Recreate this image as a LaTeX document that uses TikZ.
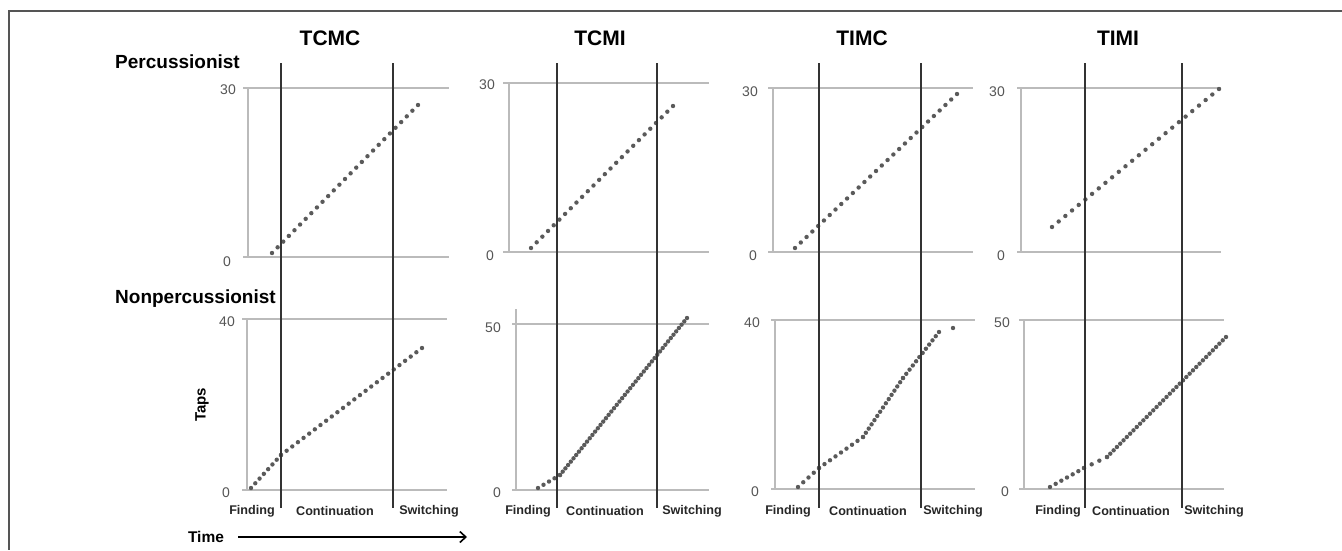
\documentclass[tikz,border=0pt]{standalone}
\usepackage{fontspec}
\setmainfont{Liberation Sans}
\usetikzlibrary{arrows.meta}
\definecolor{gridc}{HTML}{BBBBBB}
\definecolor{phasec}{HTML}{333333}
\definecolor{dotc}{HTML}{5A5A5A}
\definecolor{tickc}{HTML}{555555}
\definecolor{framec}{HTML}{555555}
\newcommand{\dotrun}[5]{%
  \foreach \i in {0,...,#5}{\fill[dotc] ({#1+(#3-#1)*(\i/#5)},{#2+(#4-#2)*(\i/#5)}) circle (2.2pt);}}
\tikzset{
  gridln/.style={draw=gridc, line width=1.3pt},
  phaseln/.style={draw=phasec, line width=1.4pt},
  ticklab/.style={text=tickc, font=\fontsize{14}{14}\selectfont, inner sep=0pt},
  ptitle/.style={font=\bfseries\fontsize{21}{21}\selectfont, inner sep=0pt},
  rowlab/.style={font=\bfseries\fontsize{19}{19}\selectfont, inner sep=0pt, anchor=west},
  phaselab/.style={font=\bfseries\fontsize{12.6}{12.6}\selectfont, text=black!85, inner sep=0pt},
}
\begin{document}
\begin{tikzpicture}[x=1pt,y=-1pt]
\useasboundingbox (0,0) rectangle (1342,550);
\fill[white] (0,0) rectangle (1342,550);
% frame
\draw[framec, line width=1.3pt] (1342,11) -- (9,11) -- (9,550);

% titles
\node[ptitle] (t1) at (330,38) {TCMC};
\node[ptitle] (t2) at (600,38) {TCMI};
\node[ptitle] (t3) at (862,38) {TIMC};
\node[ptitle] (t4) at (1118,38) {TIMI};
\node[rowlab] (rp) at (115,62) {Percussionist};
\node[rowlab] (rn) at (115,299) {Nonpercussionist};

% ---------- Panel 1 ----------
\draw[gridln] (243,88) -- (449,88);
\draw[gridln] (243,257) -- (449,257);
\draw[gridln] (248,88) -- (248,257);
\draw[gridln] (242,319) -- (447,319);
\draw[gridln] (242,490) -- (447,490);
\draw[gridln] (247,319) -- (247,490);
\node[ticklab] (a1) at (228,90) {30};
\node[ticklab] (a2) at (227,262) {0};
\node[ticklab] (a3) at (227,322) {40};
\node[ticklab] (a4) at (226,493) {0};
\dotrun{272}{253}{418}{105}{26}
\dotrun{251}{488}{281}{455}{7}
\dotrun{281}{455}{422}{348}{25}
\draw[phaseln] (281,63) -- (281,508);
\draw[phaseln] (393,63) -- (393,508);
\node[phaselab] (f1) at (252,511) {Finding};
\node[phaselab] (c1) at (335,511) {Continuation};
\node[phaselab] (s1) at (429,511) {Switching};
\node[font=\bfseries\fontsize{15}{15}\selectfont, rotate=90, inner sep=0pt] (taps) at (202,405) {Taps};
\node[font=\bfseries\fontsize{15.5}{15.5}\selectfont, inner sep=0pt] (time) at (206,537) {Time};
\coordinate (tarrow) at (467,537);
\draw[line width=1.3pt, -{Straight Barb[length=6pt,width=11pt,line width=1.6pt]}] (time.east) ++(14,0) -- (tarrow);

% ---------- Panel 2 ----------
\draw[gridln] (503,83) -- (709,83);
\draw[gridln] (503,252) -- (709,252);
\draw[gridln] (509,83) -- (509,252);
\draw[gridln] (512,324) -- (709,324);
\draw[gridln] (512,490) -- (709,490);
\draw[gridln] (516,309) -- (516,490);
\node[ticklab] (b1) at (487,85) {30};
\node[ticklab] (b2) at (490,256) {0};
\node[ticklab] (b3) at (493,328) {50};
\node[ticklab] (b4) at (497,493) {0};
\dotrun{531}{248}{673}{106}{25}
\dotrun{538}{488}{560}{475}{4}
\dotrun{560}{475}{687}{318}{47}
\draw[phaseln] (557,63) -- (557,508);
\draw[phaseln] (657,63) -- (657,508);
\node[phaselab] (f2) at (528,511) {Finding};
\node[phaselab] (c2) at (605,511) {Continuation};
\node[phaselab] (s2) at (692,511) {Switching};

% ---------- Panel 3 ----------
\draw[gridln] (768,88) -- (973,88);
\draw[gridln] (768,252) -- (973,252);
\draw[gridln] (773,88) -- (773,252);
\draw[gridln] (771,320) -- (975,320);
\draw[gridln] (771,489) -- (975,489);
\draw[gridln] (775,320) -- (775,489);
\node[ticklab] (c31) at (750,92) {30};
\node[ticklab] (c32) at (753,256) {0};
\node[ticklab] (c33) at (752,323) {40};
\node[ticklab] (c34) at (755,492) {0};
\dotrun{795}{248}{957}{94}{28}
\dotrun{798}{487}{819}{468}{4}
\dotrun{819}{468}{863}{437}{8}
\dotrun{863}{437}{903}{378}{14}
\dotrun{903}{378}{939}{332}{11}
\fill[dotc] (953,328) circle (2.2pt);
\draw[phaseln] (819,63) -- (819,508);
\draw[phaseln] (921,63) -- (921,508);
\node[phaselab] (f3) at (788,511) {Finding};
\node[phaselab] (c3) at (868,511) {Continuation};
\node[phaselab] (s3) at (953,511) {Switching};

% ---------- Panel 4 ----------
\draw[gridln] (1017,88) -- (1221,88);
\draw[gridln] (1017,252) -- (1221,252);
\draw[gridln] (1021,88) -- (1021,252);
\draw[gridln] (1019,320) -- (1224,320);
\draw[gridln] (1019,489) -- (1224,489);
\draw[gridln] (1024,320) -- (1024,489);
\node[ticklab] (d1) at (997,92) {30};
\node[ticklab] (d2) at (1001,256) {0};
\node[ticklab] (d3) at (1002,323) {50};
\node[ticklab] (d4) at (1005,492) {0};
\dotrun{1052}{227}{1219}{89}{25}
\dotrun{1050}{487}{1084}{468}{6}
\dotrun{1084}{468}{1107}{457}{3}
\dotrun{1107}{457}{1226}{337}{36}
\draw[phaseln] (1085,63) -- (1085,508);
\draw[phaseln] (1182,63) -- (1182,508);
\node[phaselab] (f4) at (1058,511) {Finding};
\node[phaselab] (c4) at (1131,511) {Continuation};
\node[phaselab] (s4) at (1214,511) {Switching};
\end{tikzpicture}
\end{document}
